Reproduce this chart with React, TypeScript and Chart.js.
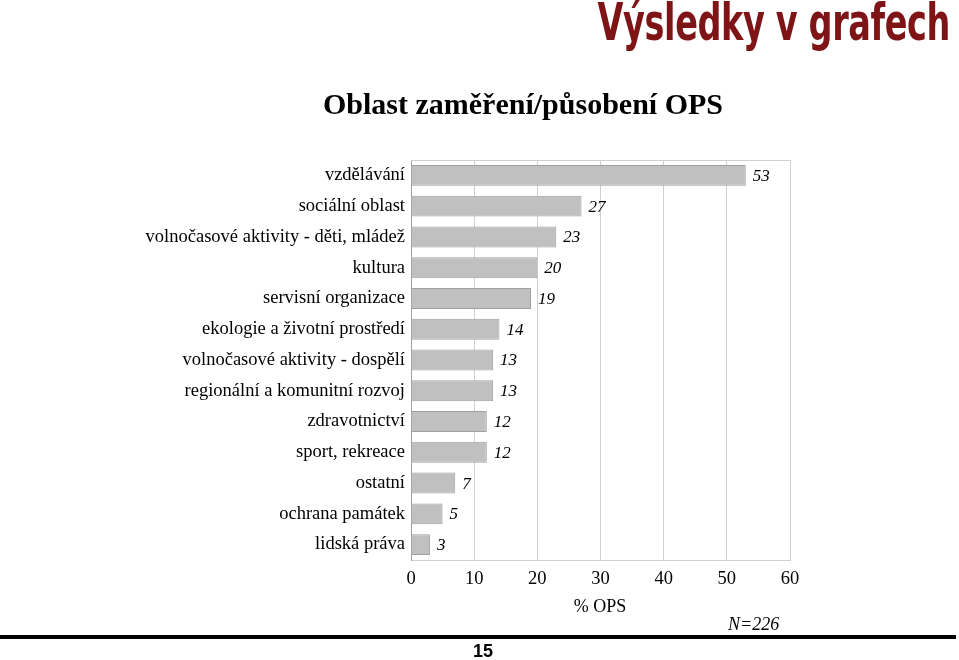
import React, { useEffect, useRef } from "react";
import { Chart, registerables } from "chart.js";

Chart.register(...registerables);

const categories = [
  "vzdělávání",
  "sociální oblast",
  "volnočasové aktivity - děti, mládež",
  "kultura",
  "servisní organizace",
  "ekologie a životní prostředí",
  "volnočasové aktivity - dospělí",
  "regionální a komunitní rozvoj",
  "zdravotnictví",
  "sport, rekreace",
  "ostatní",
  "ochrana památek",
  "lidská práva",
];
const values = [53, 27, 23, 20, 19, 14, 13, 13, 12, 12, 7, 5, 3];
const xTicks = [0, 10, 20, 30, 40, 50, 60];

const SERIF = '"Liberation Serif", "Times New Roman", serif';

const extrasPlugin = {
  id: "extras",
  afterDatasetsDraw(chart: any) {
    const { ctx, chartArea } = chart;
    ctx.save();
    ctx.strokeStyle = "#d0d0d0";
    ctx.lineWidth = 1;
    ctx.beginPath();
    ctx.moveTo(chartArea.left, chartArea.top + 0.5);
    ctx.lineTo(chartArea.right + 0.5, chartArea.top + 0.5);
    ctx.lineTo(chartArea.right + 0.5, chartArea.bottom);
    ctx.stroke();
    const meta = chart.getDatasetMeta(0);
    ctx.fillStyle = "#000";
    ctx.font = `italic 17px ${SERIF}`;
    ctx.textAlign = "left";
    ctx.textBaseline = "middle";
    meta.data.forEach((bar: any, i: number) => {
      ctx.fillText(String(values[i]), bar.x + 7, bar.y + 1);
    });
    ctx.restore();
  },
};

export default function App() {
  const ref = useRef<HTMLCanvasElement | null>(null);
  useEffect(() => {
    document.body.style.margin = "0";
    const chart = new Chart(ref.current as HTMLCanvasElement, {
      type: "bar",
      data: {
        labels: categories,
        datasets: [
          {
            data: values,
            backgroundColor: "#c0c0c0",
            borderColor: "#a0a0a0",
            borderWidth: 1,
            barPercentage: 0.68,
            categoryPercentage: 1,
          },
        ],
      },
      options: {
        indexAxis: "y",
        animation: false,
        responsive: false,
        layout: { padding: { top: 160, right: 169, left: 0, bottom: 0 } },
        plugins: { legend: { display: false }, tooltip: { enabled: false } },
        scales: {
          x: {
            min: 0,
            max: 60,
            afterFit: (s: any) => {
              s.height = 100;
            },
            afterBuildTicks: (s: any) => {
              s.ticks = xTicks.map((v) => ({ value: v }));
            },
            grid: { color: "#d0d0d0", drawTicks: false },
            border: { color: "#d0d0d0" },
            ticks: {
              color: "#000",
              padding: 8,
              font: { family: SERIF, size: 18.5 },
            },
          },
          y: {
            afterFit: (s: any) => {
              s.width = 411;
            },
            grid: { display: false, drawTicks: false },
            border: { color: "#a0a0a0" },
            ticks: {
              color: "#000",
              padding: 6,
              font: { family: SERIF, size: 18.5 },
            },
          },
        },
      },
      plugins: [extrasPlugin],
    });
    return () => chart.destroy();
  }, []);

  return (
    <div style={{ position: "relative", width: 959, height: 660, background: "#fff", overflow: "hidden" }}>
      <canvas ref={ref} width={959} height={660} style={{ position: "absolute", left: 0, top: 0 }} />
      <div
        style={{
          position: "absolute",
          right: 9,
          top: -7,
          fontFamily: '"Liberation Sans Narrow", "DejaVu Sans Condensed", "Roboto Condensed", sans-serif',
          fontWeight: "bold",
          fontSize: 51,
          color: "#7f1416",
          letterSpacing: -0.5,
          whiteSpace: "nowrap",
          transform: "scaleX(0.73)",
          transformOrigin: "right top",
        }}
      >
        Výsledky v grafech
      </div>
      <div
        style={{
          position: "absolute",
          left: 0,
          width: 1046,
          top: 87,
          textAlign: "center",
          fontFamily: SERIF,
          fontWeight: "bold",
          fontSize: 30,
          whiteSpace: "nowrap",
        }}
      >
        Oblast zaměření/působení OPS
      </div>
      <div
        style={{
          position: "absolute",
          left: 0,
          width: 1200,
          top: 596,
          textAlign: "center",
          fontFamily: SERIF,
          fontSize: 18,
        }}
      >
        % OPS
      </div>
      <div
        style={{
          position: "absolute",
          left: 728,
          top: 614,
          fontFamily: SERIF,
          fontStyle: "italic",
          fontSize: 18,
        }}
      >
        N=226
      </div>
      <div style={{ position: "absolute", left: 0, top: 635, width: 956, height: 4, background: "#000" }} />
      <div
        style={{
          position: "absolute",
          left: 0,
          width: 966,
          top: 641,
          textAlign: "center",
          fontFamily: '"Liberation Sans", Arial, sans-serif',
          fontWeight: "bold",
          fontSize: 18,
        }}
      >
        15
      </div>
    </div>
  );
}
